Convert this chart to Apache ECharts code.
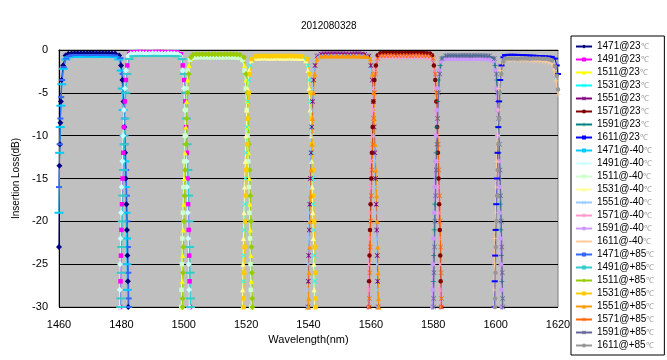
<!DOCTYPE html>
<html><head><meta charset="utf-8">
<script src="https://cdn.jsdelivr.net/npm/echarts@6/dist/echarts.min.js"></script>
<style>html,body{margin:0;padding:0;background:#fff}#c{width:667px;height:360px}</style>
</head><body><div id="c"></div>
<script>
// ---------------- data ----------------
const TITLE = '2012080328';
const X_RANGE = [1460, 1620, 20];
const Y_RANGE = [-30, 0, 5];
const CHANNELS = ['1471','1491','1511','1531','1551','1571','1591','1611'];
const TEMPS = ['23','-40','+85'];

// dB levels at which the edge wavelengths were read (bottom -> top)
const LV_23  = [-30,-27,-24,-21,-18,-15,-12,-9,-6,-3.5,-1.8];
const LV_M40 = [-30,-28,-25,-22,-19,-16,-13,-10,-7,-4.5,-2.4];
const LV_P85 = [-30,-29,-26,-23,-20,-17,-14,-11,-8,-5,-2.8];

// 23 C
const s1471_23 = {head:[[1460,-23],[1460.15,-13.5],[1460.3,-11],[1460.45,-8.5],[1460.6,-6],[1460.85,-3.5],[1461.3,-1.8],[1462.1,-0.65],[1463,-0.45]],
  t0:1464, top:[-0.4,-0.38,-0.37,-0.37,-0.38,-0.37,-0.36,-0.37,-0.38,-0.38,-0.37,-0.38,-0.39,-0.4,-0.42],
  c2:[1479.3,-0.65], fall:[1482.2,1482.08,1481.94,1481.78,1481.6,1481.4,1481.18,1480.94,1480.68,1480.35,1479.9]};
const s1491_23 = {rise:[1479.6,1479.72,1479.86,1480.02,1480.2,1480.4,1480.62,1480.86,1481.12,1481.45,1481.9], c1:[1482.5,-0.5],
  t0:1483, top:[-0.28,-0.26,-0.25,-0.24,-0.24,-0.25,-0.26,-0.25,-0.24,-0.23,-0.24,-0.25,-0.26,-0.25,-0.26,-0.28],
  c2:[1499.1,-0.5], fall:[1502.0,1501.88,1501.74,1501.58,1501.4,1501.2,1500.98,1500.74,1500.48,1500.15,1499.7]};
const s1511_23 = {rise:[1499.4,1499.52,1499.66,1499.82,1500.0,1500.2,1500.42,1500.66,1500.92,1501.25,1501.7], c1:[1502.3,-1.0],
  t0:1503, top:[-0.78,-0.76,-0.75,-0.74,-0.75,-0.76,-0.75,-0.74,-0.74,-0.75,-0.76,-0.75,-0.74,-0.75,-0.77,-0.79],
  c2:[1518.9,-1.0], fall:[1521.8,1521.68,1521.54,1521.38,1521.2,1521.0,1520.78,1520.54,1520.28,1519.95,1519.5]};
const s1531_23 = {rise:[1519.0,1519.12,1519.26,1519.42,1519.6,1519.8,1520.02,1520.26,1520.52,1520.85,1521.3], c1:[1521.9,-1.0],
  t0:1523, top:[-0.77,-0.75,-0.74,-0.74,-0.75,-0.76,-0.75,-0.74,-0.75,-0.76,-0.75,-0.74,-0.75,-0.76,-0.77,-0.79],
  c2:[1539.2,-1.0], fall:[1542.1,1541.98,1541.84,1541.68,1541.5,1541.3,1541.08,1540.84,1540.58,1540.25,1539.8]};
const s1551_23 = {rise:[1539.8,1539.92,1540.06,1540.22,1540.4,1540.6,1540.82,1541.06,1541.32,1541.65,1542.1], c1:[1542.7,-0.7],
  t0:1544, top:[-0.46,-0.44,-0.43,-0.44,-0.45,-0.44,-0.43,-0.44,-0.45,-0.46,-0.45,-0.44,-0.45,-0.47,-0.49],
  c2:[1559.4,-0.7], fall:[1562.3,1562.18,1562.04,1561.88,1561.7,1561.5,1561.28,1561.04,1560.78,1560.45,1560.0]};
const s1571_23 = {rise:[1559.3,1559.42,1559.56,1559.72,1559.9,1560.1,1560.32,1560.56,1560.82,1561.15,1561.6], c1:[1562.2,-0.6],
  t0:1563, top:[-0.38,-0.36,-0.35,-0.34,-0.35,-0.36,-0.35,-0.34,-0.34,-0.35,-0.36,-0.35,-0.34,-0.35,-0.36,-0.37,-0.4],
  c2:[1579.6,-0.6], fall:[1582.5,1582.38,1582.24,1582.08,1581.9,1581.7,1581.48,1581.24,1580.98,1580.65,1580.2]};
const s1591_23 = {rise:[1579.9,1580.02,1580.16,1580.32,1580.5,1580.7,1580.92,1581.16,1581.42,1581.75,1582.2], c1:[1582.8,-0.95],
  t0:1584, top:[-0.72,-0.7,-0.69,-0.7,-0.71,-0.7,-0.69,-0.7,-0.71,-0.7,-0.69,-0.7,-0.71,-0.73,-0.75],
  c2:[1599.2,-0.95], fall:[1602.1,1601.98,1601.84,1601.68,1601.5,1601.3,1601.08,1600.84,1600.58,1600.25,1599.8]};
const s1611_23 = {rise:[1599.6,1599.72,1599.86,1600.02,1600.2,1600.4,1600.62,1600.86,1601.12,1601.45,1601.9], c1:[1602.5,-0.85],
  t0:1603, top:[-0.58,-0.56,-0.55,-0.56,-0.57,-0.58,-0.6,-0.62,-0.64,-0.66,-0.68,-0.7,-0.72,-0.74,-0.76,-0.8],
  tail:[[1619,-1.0],[1619.6,-1.8],[1620,-2.8]]};

// -40 C
const s1471_m40 = {head:[[1460,-19],[1460.2,-12],[1460.4,-9],[1460.6,-6.5],[1460.9,-4],[1461.4,-2.2],[1462.2,-1.1],[1463.1,-0.85]],
  t0:1464, top:[-0.8,-0.79,-0.78,-0.78,-0.79,-0.8,-0.79,-0.78,-0.78,-0.79,-0.8,-0.79,-0.8,-0.82,-0.84],
  c2:[1479.2,-1.1], fall:[1482.0,1481.92,1481.8,1481.65,1481.48,1481.29,1481.08,1480.85,1480.6,1480.3,1479.9]};
const s1491_m40 = {rise:[1479.4,1479.48,1479.6,1479.75,1479.92,1480.11,1480.32,1480.55,1480.8,1481.1,1481.5], c1:[1482.2,-0.7],
  t0:1483, top:[-0.43,-0.41,-0.4,-0.39,-0.4,-0.41,-0.4,-0.39,-0.39,-0.4,-0.41,-0.4,-0.39,-0.4,-0.42,-0.44],
  c2:[1499.0,-0.7], fall:[1501.8,1501.72,1501.6,1501.45,1501.28,1501.09,1500.88,1500.65,1500.4,1500.1,1499.7]};
const s1511_m40 = {rise:[1499.2,1499.28,1499.4,1499.55,1499.72,1499.91,1500.12,1500.35,1500.6,1500.9,1501.3], c1:[1502.0,-1.15],
  t0:1503, top:[-0.88,-0.86,-0.85,-0.84,-0.85,-0.86,-0.85,-0.84,-0.85,-0.86,-0.85,-0.84,-0.85,-0.86,-0.88,-0.9],
  c2:[1518.8,-1.15], fall:[1521.6,1521.52,1521.4,1521.25,1521.08,1520.89,1520.68,1520.45,1520.2,1519.9,1519.5]};
const s1531_m40 = {rise:[1518.8,1518.88,1519.0,1519.15,1519.32,1519.51,1519.72,1519.95,1520.2,1520.5,1520.9], c1:[1521.6,-1.25],
  t0:1523, top:[-0.97,-0.95,-0.94,-0.94,-0.95,-0.96,-0.95,-0.94,-0.95,-0.96,-0.95,-0.94,-0.95,-0.96,-0.98,-1.0],
  c2:[1539.1,-1.25], fall:[1541.9,1541.82,1541.7,1541.55,1541.38,1541.19,1540.98,1540.75,1540.5,1540.2,1539.8]};
const s1551_m40 = {rise:[1539.6,1539.68,1539.8,1539.95,1540.12,1540.31,1540.52,1540.75,1541.0,1541.3,1541.7], c1:[1542.4,-1.05],
  t0:1543, top:[-0.78,-0.76,-0.75,-0.74,-0.75,-0.76,-0.75,-0.74,-0.75,-0.76,-0.75,-0.74,-0.75,-0.76,-0.78,-0.8],
  c2:[1559.3,-1.05], fall:[1562.1,1562.02,1561.9,1561.75,1561.58,1561.39,1561.18,1560.95,1560.7,1560.4,1560.0]};
const s1571_m40 = {rise:[1559.1,1559.18,1559.3,1559.45,1559.62,1559.81,1560.02,1560.25,1560.5,1560.8,1561.2], c1:[1561.9,-1.1],
  t0:1563, top:[-0.82,-0.8,-0.79,-0.79,-0.8,-0.81,-0.8,-0.79,-0.8,-0.81,-0.8,-0.79,-0.8,-0.81,-0.83,-0.85],
  c2:[1579.5,-1.1], fall:[1582.3,1582.22,1582.1,1581.95,1581.78,1581.59,1581.38,1581.15,1580.9,1580.6,1580.2]};
const s1591_m40 = {rise:[1579.7,1579.78,1579.9,1580.05,1580.22,1580.41,1580.62,1580.85,1581.1,1581.4,1581.8], c1:[1582.5,-1.35],
  t0:1584, top:[-1.07,-1.05,-1.04,-1.05,-1.06,-1.05,-1.04,-1.05,-1.06,-1.05,-1.04,-1.05,-1.06,-1.08,-1.1],
  c2:[1599.1,-1.35], fall:[1601.9,1601.82,1601.7,1601.55,1601.38,1601.19,1600.98,1600.75,1600.5,1600.2,1599.8]};
const s1611_m40 = {rise:[1599.4,1599.48,1599.6,1599.75,1599.92,1600.11,1600.32,1600.55,1600.8,1601.1,1601.5], c1:[1602.2,-1.5],
  t0:1603, top:[-1.22,-1.2,-1.19,-1.2,-1.21,-1.22,-1.23,-1.24,-1.25,-1.27,-1.29,-1.31,-1.34,-1.38,-1.45],
  tail:[[1618,-1.6],[1618.8,-2.4],[1619.4,-3.6],[1620,-5.2]]};

// +85 C
const s1471_p85 = {head:[[1460,-16],[1460.2,-11],[1460.45,-8],[1460.7,-5.5],[1461,-3.5],[1461.5,-2],[1462.3,-1],[1463.3,-0.7]],
  t0:1464, top:[-0.6,-0.59,-0.58,-0.58,-0.59,-0.6,-0.59,-0.58,-0.58,-0.59,-0.6,-0.59,-0.6,-0.62,-0.64],
  c2:[1479.7,-0.95], fall:[1482.4,1482.36,1482.24,1482.09,1481.92,1481.74,1481.53,1481.3,1481.05,1480.76,1480.4]};
const s1491_p85 = {rise:[1479.8,1479.84,1479.96,1480.11,1480.28,1480.46,1480.67,1480.9,1481.15,1481.44,1481.8], c1:[1482.5,-1.05],
  t0:1484, top:[-0.72,-0.7,-0.69,-0.7,-0.71,-0.7,-0.69,-0.69,-0.7,-0.71,-0.7,-0.69,-0.7,-0.72,-0.74],
  c2:[1499.5,-1.05], fall:[1502.2,1502.16,1502.04,1501.89,1501.72,1501.54,1501.33,1501.1,1500.85,1500.56,1500.2]};
const s1511_p85 = {rise:[1499.6,1499.64,1499.76,1499.91,1500.08,1500.26,1500.47,1500.7,1500.95,1501.24,1501.6], c1:[1502.3,-0.85],
  t0:1503, top:[-0.53,-0.51,-0.5,-0.49,-0.5,-0.51,-0.5,-0.49,-0.49,-0.5,-0.51,-0.5,-0.49,-0.5,-0.52,-0.54],
  c2:[1519.3,-0.85], fall:[1522.0,1521.96,1521.84,1521.69,1521.52,1521.34,1521.13,1520.9,1520.65,1520.36,1520.0]};
const s1531_p85 = {rise:[1519.2,1519.24,1519.36,1519.51,1519.68,1519.86,1520.07,1520.3,1520.55,1520.84,1521.2], c1:[1521.9,-1.05],
  t0:1523, top:[-0.73,-0.71,-0.7,-0.69,-0.7,-0.71,-0.7,-0.69,-0.7,-0.71,-0.7,-0.69,-0.7,-0.71,-0.73,-0.75],
  c2:[1539.6,-1.05], fall:[1542.3,1542.26,1542.14,1541.99,1541.82,1541.64,1541.43,1541.2,1540.95,1540.66,1540.3]};
const s1551_p85 = {rise:[1540.0,1540.04,1540.16,1540.31,1540.48,1540.66,1540.87,1541.1,1541.35,1541.64,1542.0], c1:[1542.7,-1.05],
  t0:1544, top:[-0.72,-0.7,-0.69,-0.7,-0.71,-0.7,-0.69,-0.7,-0.71,-0.7,-0.69,-0.7,-0.71,-0.72,-0.74,-0.76],
  c2:[1559.8,-1.05], fall:[1562.5,1562.46,1562.34,1562.19,1562.02,1561.84,1561.63,1561.4,1561.15,1560.86,1560.5]};
const s1571_p85 = {rise:[1559.5,1559.54,1559.66,1559.81,1559.98,1560.16,1560.37,1560.6,1560.85,1561.14,1561.5], c1:[1562.2,-1.0],
  t0:1563, top:[-0.68,-0.66,-0.65,-0.64,-0.65,-0.66,-0.65,-0.64,-0.64,-0.65,-0.66,-0.65,-0.64,-0.65,-0.66,-0.68,-0.7],
  c2:[1580.0,-1.0], fall:[1582.7,1582.66,1582.54,1582.39,1582.22,1582.04,1581.83,1581.6,1581.35,1581.06,1580.7]};
const s1591_p85 = {rise:[1580.1,1580.14,1580.26,1580.41,1580.58,1580.76,1580.97,1581.2,1581.45,1581.74,1582.1], c1:[1582.8,-1.0],
  t0:1584, top:[-0.67,-0.65,-0.64,-0.65,-0.66,-0.65,-0.64,-0.65,-0.66,-0.65,-0.64,-0.65,-0.66,-0.68,-0.7],
  c2:[1599.6,-1.0], fall:[1602.3,1602.26,1602.14,1601.99,1601.82,1601.64,1601.43,1601.2,1600.95,1600.66,1600.3]};
const s1611_p85 = {rise:[1599.8,1599.84,1599.96,1600.11,1600.28,1600.46,1600.67,1600.9,1601.15,1601.44,1601.8], c1:[1602.5,-1.35],
  t0:1603, top:[-1.02,-1.0,-0.99,-1.0,-1.01,-1.0,-0.99,-1.0,-1.01,-1.0,-0.99,-1.0,-1.01,-1.03,-1.08],
  tail:[[1618,-1.2],[1619,-1.9],[1619.6,-3.0],[1620,-4.6]]};

const SERIES_23  = [s1471_23, s1491_23, s1511_23, s1531_23, s1551_23, s1571_23, s1591_23, s1611_23];
const SERIES_M40 = [s1471_m40, s1491_m40, s1511_m40, s1531_m40, s1551_m40, s1571_m40, s1591_m40, s1611_m40];
const SERIES_P85 = [s1471_p85, s1491_p85, s1511_p85, s1531_p85, s1551_p85, s1571_p85, s1591_p85, s1611_p85];

// ---------------- styles ----------------
const COLORS = ['#000080','#FF00FF','#FFFF00','#00FFFF','#800080','#800000','#008080','#0000FF',
                '#00CCFF','#CCFFFF','#CCFFCC','#FFFF99','#99CCFF','#FF99CC','#CC99FF','#FFCC99',
                '#3366FF','#33CCCC','#99CC00','#FFCC00','#FF9900','#FF6600','#666699','#969696'];
const SYM_X = 'path://M0,1L1,0L5,4L9,0L10,1L6,5L10,9L9,10L5,6L1,10L0,9L4,5Z';
const SYM_STAR = 'path://M0,1L1,0L5,4L9,0L10,1L6,5L10,9L9,10L5,6L1,10L0,9L4,5ZM4.4,0H5.6V10H4.4Z';
const SYM_PLUS = 'path://M4.3,0H5.7V4.3H10V5.7H5.7V10H4.3V5.7H0V4.3H4.3Z';
const SYM_DASH = 'path://M0,0H10V2H0Z';
const MARKERS = [['diamond',6],['rect',4.5],['triangle',5],[SYM_X,5],[SYM_STAR,5],['circle',4.5],[SYM_PLUS,5],[SYM_DASH,[6,2]],[SYM_DASH,[9,2]]];
const FONT = 'Liberation Sans, Arial, sans-serif';

function build(s, lv) {
  const pts = [];
  if (s.head) pts.push(...s.head);
  else { s.rise.forEach((x, i) => pts.push([x, lv[i]])); pts.push(s.c1); }
  s.top.forEach((y, i) => pts.push([s.t0 + i, y]));
  if (s.tail) pts.push(...s.tail);
  else { pts.push(s.c2); for (let i = lv.length - 1; i >= 0; i--) pts.push([s.fall[i], lv[i]]); }
  return pts;
}

const groups = [[SERIES_23, LV_23, '23'], [SERIES_M40, LV_M40, '-40'], [SERIES_P85, LV_P85, '+85']];
const series = [];
groups.forEach(([arr, lv, t]) => {
  arr.forEach((s, k) => {
    const idx = series.length;
    const m = MARKERS[idx % MARKERS.length];
    series.push({
      type: 'line', name: CHANNELS[k] + '@' + t + '℃', data: build(s, lv),
      symbol: m[0], symbolSize: m[1], showSymbol: true, showAllSymbol: true,
      lineStyle: {width: 1, color: COLORS[idx]}, itemStyle: {color: COLORS[idx]},
      emphasis: {disabled: true}, animation: false, clip: true
    });
  });
});

const chart = echarts.init(document.getElementById('c'), null, {renderer: 'canvas'});
chart.setOption({
  animation: false,
  backgroundColor: '#fff',
  title: {text: TITLE, left: 296, top: 16, textStyle: {fontSize: 10, fontWeight: 'normal', color: '#000', fontFamily: FONT}},
  grid: {left: 59, right: 109, top: 50, bottom: 53, show: true, backgroundColor: '#C0C0C0', borderColor: '#808080', borderWidth: 1},
  legend: {
    orient: 'vertical', left: 571, top: 36, itemWidth: 16, itemHeight: 5, itemGap: 0,
    padding: [4, 10, 3, 4], borderColor: '#000', borderWidth: 1, backgroundColor: '#fff',
    textStyle: {fontSize: 10, lineHeight: 13, color: '#000', fontFamily: FONT,
      rich: {u: {fontSize: 8, color: '#999', fontFamily: FONT}}},
    formatter: n => n.replace('℃', '{u|℃}'),
    data: series.map(s => s.name)
  },
  xAxis: {
    type: 'value', min: X_RANGE[0], max: X_RANGE[1], interval: X_RANGE[2],
    axisLine: {show: true, lineStyle: {color: '#000', width: 1}}, axisTick: {show: false},
    axisLabel: {color: '#000', fontSize: 11, margin: 12, fontFamily: FONT, formatter: v => String(v)},
    splitLine: {show: false},
    name: 'Wavelength(nm)', nameLocation: 'middle', nameGap: 27,
    nameTextStyle: {color: '#000', fontSize: 11, fontFamily: FONT}
  },
  yAxis: {
    type: 'value', min: Y_RANGE[0], max: Y_RANGE[1], interval: Y_RANGE[2],
    axisLine: {show: true, lineStyle: {color: '#000', width: 1}}, axisTick: {show: false},
    axisLabel: {color: '#000', fontSize: 11, margin: 11, fontFamily: FONT, formatter: v => String(v)},
    splitLine: {show: true, lineStyle: {color: ['#000','#000','#000','#000','#000','#000','#808080'], width: 1}},
    name: 'Insertion Loss(dB)', nameLocation: 'middle', nameRotate: 90, nameGap: 24,
    nameTextStyle: {color: '#000', fontSize: 10, fontFamily: FONT}
  },
  series: series
});
</script></body></html>
